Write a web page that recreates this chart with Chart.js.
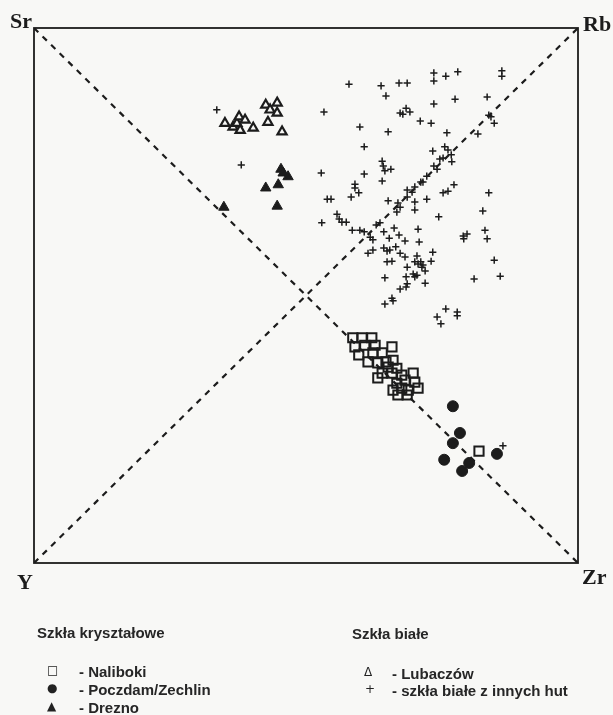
<!DOCTYPE html>
<html>
<head>
<meta charset="utf-8">
<script src="https://cdn.jsdelivr.net/npm/chart.js@4/dist/chart.umd.min.js"></script>
<style>
  body { margin: 0; background: #f8f8f6; }
  #wrap { position: relative; width: 613px; height: 715px; }
  #mychart { position: absolute; left: 0; top: 0; }
  .corner { position: absolute; font-family: "Liberation Serif", serif; font-weight: bold; font-size: 22px; color: #1c1c1c; line-height: 1; }
  .lg { position: absolute; font-family: "Liberation Sans", Arial, sans-serif; font-weight: bold; font-size: 15px; color: #262626; line-height: 1; white-space: nowrap; }
  .mk { position: absolute; font-family: "DejaVu Sans", sans-serif; font-size: 12px; color: #222; line-height: 1; }
</style>
</head>
<body>
<div id="wrap">
  <canvas id="mychart" width="613" height="715"></canvas>
  <div class="corner" style="left:10px; top:10px">Sr</div>
  <div class="corner" style="left:583px; top:13px">Rb</div>
  <div class="corner" style="left:17px; top:571px">Y</div>
  <div class="corner" style="left:582px; top:566px">Zr</div>

  <div class="lg" style="left:37px; top:625px">Szkła kryształowe</div>
  <div class="mk" style="left:47px; top:664px; font-weight:bold">□</div>
  <div class="lg" style="left:79px; top:664px">- Naliboki</div>
  <div class="mk" style="left:47px; top:682px">●</div>
  <div class="lg" style="left:79px; top:682px">- Poczdam/Zechlin</div>
  <div class="mk" style="left:47px; top:700px">▲</div>
  <div class="lg" style="left:79px; top:700px">- Drezno</div>

  <div class="lg" style="left:352px; top:626px">Szkła białe</div>
  <div class="mk" style="left:364px; top:666px">Δ</div>
  <div class="lg" style="left:392px; top:666px">- Lubaczów</div>
  <div class="mk" style="left:365px; top:683px">+</div>
  <div class="lg" style="left:392px; top:683px">- szkła białe z innych hut</div>
</div>
<script>
// corners of the diagram (Sr top-left, Rb top-right, Y bottom-left, Zr bottom-right)
const diagA = [[0, 0], [100, 100]]   // Y -> Rb
const diagB = [[0, 100], [100, 0]]   // Sr -> Zr

// Szkła kryształowe
const naliboki = [
  [58.6,42.1],[60.3,42.1],[62.1,42.1],[59.0,40.4],[60.8,40.7],[62.7,40.7],[65.8,40.4],
  [59.7,38.9],[62.3,39.3],[64.0,39.3],[61.4,37.6],[63.2,37.4],[64.7,37.6],[66.0,37.9],
  [65.1,36.6],[66.7,36.4],[63.2,34.6],[64.0,35.5],[65.8,35.5],[67.6,35.1],[69.7,35.5],
  [66.7,33.6],[68.2,34.2],[70.0,33.8],[66.0,32.3],[67.6,32.7],[68.8,32.3],[70.6,32.7],
  [66.9,31.4],[68.6,31.4],[81.8,20.9]
]
const poczdam = [
  [77.0,29.3],[78.3,24.3],[77.0,22.4],[85.1,20.4],[75.4,19.3],[80.0,18.7],[78.7,17.2]
]
const drezno = [
  [45.4,73.6],[45.8,72.9],[46.7,72.2],[42.6,70.1],[44.9,70.7],[34.9,66.5],[44.7,66.7]
]

// Szkła białe
const lubaczow = [
  [35.1,82.2],[36.6,81.5],[37.3,82.2],[37.7,83.4],[38.8,82.8],[37.9,80.9],[40.3,81.3],
  [42.6,85.6],[43.4,84.7],[44.7,86.0],[44.7,84.1],[43.0,82.4],[45.6,80.6]
]
const inneHuty = [
  [73.5,91.6],[73.5,90.1],[75.7,91.0],[77.9,91.8],[86.0,92.0],[86.0,91.0],[73.5,85.8],
  [77.4,86.7],[83.3,87.1],[83.6,83.7],[84.0,83.4],[84.6,82.2],[81.6,80.2],[73.0,82.2],
  [71.0,82.6],[75.9,80.4],[73.3,77.0],[75.5,77.8],[76.1,77.2],[74.6,75.5],[75.2,75.7],
  [76.7,76.3],[76.8,75.0],[73.5,74.2],[74.1,73.6],[72.2,72.3],[71.5,71.2],[77.2,70.7],
  [76.1,69.5],[75.2,69.2],[72.2,68.0],[83.6,69.2],[82.5,65.8],[74.4,64.7],[78.9,61.1],
  [79.6,61.5],[79.0,60.6],[82.9,62.2],[83.3,60.6],[73.3,58.1],[73.0,56.4],[71.3,55.3],
  [71.9,54.6],[71.9,52.3],[84.6,56.6],[85.7,53.6],[80.9,53.1],[75.7,47.5],[77.8,46.9],
  [77.8,46.2],[74.1,46.0],[74.8,44.7],[57.9,89.5],[63.8,89.2],[67.1,89.7],[68.6,89.7],
  [64.7,87.3],[53.3,84.3],[67.3,84.1],[67.8,83.9],[68.4,85.0],[69.1,84.3],[59.9,81.5],
  [65.1,80.6],[60.7,77.8],[52.8,72.9],[60.7,72.7],[64.0,75.1],[64.2,74.2],[64.5,73.3],
  [65.6,73.6],[64.0,71.4],[59.0,70.8],[59.0,70.1],[59.7,69.2],[53.9,68.0],[54.6,68.0],
  [58.3,68.4],[68.6,69.7],[69.5,69.3],[70.0,70.3],[71.1,71.2],[68.6,68.4],[65.1,67.7],
  [66.9,67.3],[67.3,66.5],[66.7,65.6],[70.0,67.5],[70.0,66.0],[55.7,65.2],[56.1,64.3],
  [56.6,63.7],[57.4,63.7],[52.9,63.6],[58.5,62.2],[59.9,62.2],[60.7,61.9],[62.9,63.2],
  [63.6,63.6],[61.8,60.9],[62.3,60.4],[64.3,61.9],[66.2,62.6],[65.3,60.7],[67.1,61.3],
  [68.2,60.2],[70.6,62.4],[70.8,60.0],[62.3,58.5],[61.4,57.9],[64.3,58.9],[64.9,58.3],
  [65.4,58.5],[66.5,59.1],[64.9,56.3],[65.8,56.4],[67.3,57.9],[68.2,57.2],[70.4,57.4],
  [70.0,56.3],[70.6,55.9],[71.1,56.3],[71.5,55.7],[68.6,55.3],[68.4,53.5],[69.7,54.0],
  [70.0,53.5],[70.4,53.8],[64.5,53.3],[68.6,52.2],[68.4,51.6],[67.3,51.2],[65.8,49.5],
  [66.0,49.0],[64.5,48.4],[33.6,84.7],[38.1,74.4],[86.2,21.9]
]

const ink = '#1c1c1c'
const toXY = arr => arr.map(p => ({ x: p[0], y: p[1] }))

// ramka diagramu
const boxPlugin = {
    id: 'box',
    beforeDatasetsDraw(chart) {
        const a = chart.chartArea
        const c = chart.ctx
        c.save()
        c.strokeStyle = ink
        c.lineWidth = 1.8
        c.strokeRect(a.left, a.top, a.right - a.left, a.bottom - a.top)
        c.restore()
    }
}

const diagLine = function(data) {
    return {
        type: 'line',
        data: toXY(data),
        borderColor: ink,
        borderWidth: 2.2,
        borderDash: [6, 6],
        pointRadius: 0,
        fill: false
    }
}

const ctx = document.getElementById('mychart').getContext('2d')
const mychart = new Chart(ctx, {
    type: 'scatter',
    data: {
        datasets: [
            diagLine(diagA),
            diagLine(diagB),
            {
                label: 'szkła białe z innych hut',
                data: toXY(inneHuty),
                pointStyle: 'cross',
                pointRadius: 3.6,
                borderColor: ink,
                borderWidth: 1.5
            },
            {
                label: 'Lubaczów',
                data: toXY(lubaczow),
                pointStyle: 'triangle',
                pointRadius: 5.3,
                borderColor: ink,
                backgroundColor: '#f8f8f6',
                borderWidth: 2.2
            },
            {
                label: 'Drezno',
                data: toXY(drezno),
                pointStyle: 'triangle',
                pointRadius: 6,
                borderColor: ink,
                backgroundColor: ink,
                borderWidth: 1
            },
            {
                label: 'Naliboki',
                data: toXY(naliboki),
                pointStyle: 'rect',
                pointRadius: 6.5,
                borderColor: ink,
                backgroundColor: 'rgba(0,0,0,0)',
                borderWidth: 2
            },
            {
                label: 'Poczdam/Zechlin',
                data: toXY(poczdam),
                pointStyle: 'circle',
                pointRadius: 5.5,
                borderColor: ink,
                backgroundColor: ink,
                borderWidth: 1
            }
        ]
    },
    options: {
        responsive: false,
        animation: false,
        layout: {
            padding: { left: 34, right: 35, top: 28, bottom: 152 }
        },
        scales: {
            x: { type: 'linear', min: 0, max: 100, display: false },
            y: { type: 'linear', min: 0, max: 100, display: false }
        },
        plugins: {
            legend: { display: false },
            tooltip: { enabled: false }
        }
    },
    plugins: [boxPlugin]
})
</script>
</body>
</html>
